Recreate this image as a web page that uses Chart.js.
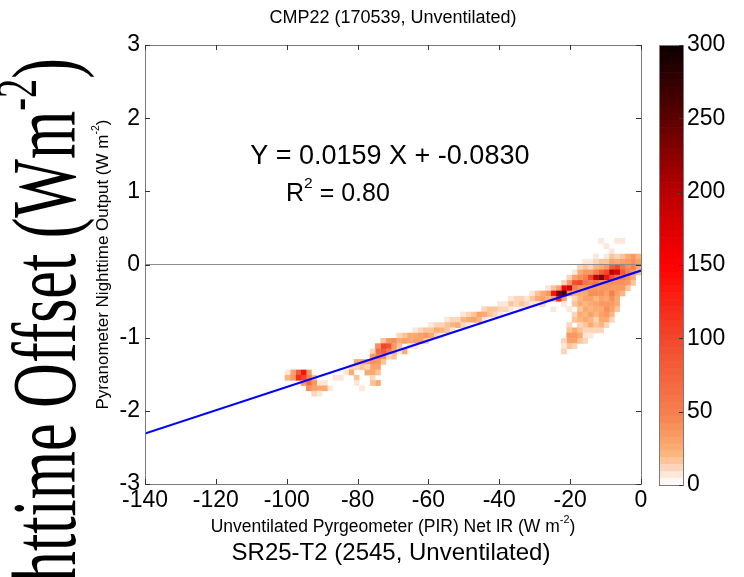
<!DOCTYPE html>
<html>
<head>
<meta charset="utf-8">
<script src="https://cdn.jsdelivr.net/npm/chart.js@4.4.0/dist/chart.umd.min.js"></script>
<style>
  html, body { margin: 0; padding: 0; background: #fff; }
  #wrap { position: relative; width: 744px; height: 577px; overflow: hidden; }
  #mainChart { position: absolute; left: 0; top: 0; }
  #barChart { position: absolute; left: 650px; top: 0; }
</style>
</head>
<body>
<div id="wrap">
  <canvas id="mainChart" width="744" height="577"></canvas>
  <canvas id="barChart" width="94" height="577"></canvas>
</div>
<script>
// axes
const xTicks = [-140, -120, -100, -80, -60, -40, -20, 0];
const yTicks = [-3, -2, -1, 0, 1, 2, 3];
const cbTicks = [0, 50, 100, 150, 200, 250, 300];

// 2D histogram bins (counts per cell)
const binWidthX = 1.5;
const binHeightY = 0.072;
const colX = [-0.75, -2.25, -3.75, -5.25, -6.75, -8.25, -9.75, -11.25, -12.75, -14.25,
  -15.75, -17.25, -18.75, -20.25, -21.75, -23.25, -24.75, -26.25, -27.75, -29.25,
  -30.75, -32.25, -33.75, -35.25, -36.75, -38.25, -39.75, -41.25, -42.75, -44.25,
  -45.75, -47.25, -48.75, -50.25, -51.75, -53.25, -54.75, -56.25, -57.75, -59.25,
  -60.75, -62.25, -63.75, -65.25, -66.75, -68.25, -69.75, -71.25, -72.75, -74.25,
  -75.75, -77.25, -78.75, -80.25, -81.75, -83.25, -84.75, -86.25, -87.75, -89.25,
  -90.75, -92.25, -93.75, -95.25, -96.75, -98.25, -99.75];
// y of the top cell in each column; counts go downward from there
const colTopY = [0.108, 0.108, 0.108, 0.324, 0.324, 0.18, 0.252, 0.324, 0.108, 0.036,
  0.036, -0.036, -0.108, -0.18, -0.252, -0.324, -0.324, -0.324, -0.396, -0.396,
  -0.396, -0.468, -0.468, -0.468, -0.468, -0.54, -0.54, -0.612, -0.612, -0.612,
  -0.684, -0.684, -0.684, -0.684, -0.756, -0.756, -0.756, -0.828, -0.828, -0.828,
  -0.9, -0.9, -0.9, -0.972, -0.972, -0.972, -1.044, -1.044, -1.044, -1.116,
  -1.188, -1.332, -1.332, -1.332, -1.404, -1.476, -1.548, -1.548, -1.692, -1.62,
  -1.62, -1.548, -1.476, -1.476, -1.476, -1.476, -1.476];
const colCounts = [
  [20, 30, 25, 18],
  [35, 40, 50, 35, 25, 15],
  [25, 35, 40, 50, 40, 35, 18],
  [8, 0, 0, 18, 30, 60, 80, 50, 40, 35, 20],
  [8, 0, 0, 12, 25, 100, 170, 60, 40, 35, 30, 25, 25, 18],
  [9, 15, 30, 80, 200, 90, 40, 35, 50, 40, 35, 30, 20, 12],
  [8, 0, 8, 18, 35, 100, 140, 40, 35, 30, 25, 35, 40, 35, 25, 12],
  [8, 0, 0, 0, 15, 25, 80, 230, 40, 35, 40, 30, 35, 25, 30, 25, 20, 12],
  [8, 12, 20, 50, 190, 60, 35, 40, 20, 30, 25, 20, 12, 18, 12],
  [8, 12, 35, 100, 50, 35, 40, 30, 25, 20, 30, 20, 25, 12, 8],
  [8, 18, 35, 50, 60, 35, 25, 30, 20, 25, 20, 25, 15, 12, 8, 12],
  [12, 25, 40, 100, 35, 25, 20, 25, 18, 25, 20, 12, 18, 25, 18],
  [8, 30, 90, 50, 20, 12, 18, 0, 12, 15, 0, 25, 35, 30, 12],
  [12, 35, 190, 40, 0, 0, 8, 0, 0, 12, 15, 35, 30, 18],
  [12, 150, 260, 30, 8, 0, 0, 0, 0, 0, 0, 12, 8, 12],
  [30, 230, 120],
  [18, 140, 25, 0, 8],
  [8, 35, 20],
  [25, 30, 12],
  [15, 25, 8],
  [8, 18, 8],
  [8, 12],
  [12, 18, 8],
  [12, 12],
  [8, 15, 8],
  [8, 12],
  [8, 12, 8],
  [15, 12],
  [15, 18],
  [12, 25, 8],
  [30, 20],
  [18, 30],
  [12, 25, 8],
  [8, 20, 12],
  [12, 25],
  [12, 20, 8],
  [8, 18, 15],
  [12, 20, 8],
  [12, 25, 12],
  [8, 18, 25],
  [18, 35, 15],
  [12, 30, 30],
  [8, 25, 30, 8],
  [25, 25, 8],
  [15, 30, 0, 25],
  [12, 25, 15, 8],
  [40, 35, 25, 15],
  [35, 90, 50, 12],
  [15, 100, 80, 40, 15],
  [40, 70, 50, 35, 30, 15, 0, 25],
  [12, 35, 40, 30, 25, 12, 18],
  [30, 12, 25],
  [30, 15, 0, 0, 0, 8],
  [25, 12, 0, 18, 8],
  [12, 25],
  [8],
  [8],
  [8],
  [6],
  [6, 25],
  [8, 25, 8],
  [15, 35, 30, 12],
  [35, 50, 70, 40],
  [140, 100, 35],
  [80, 120],
  [30, 35],
  [8, 20]
];

// linear fit
const fitSlope = 0.0159;
const fitIntercept = -0.0830;
const fitRSquared = 0.80;
const fitRangeX = [-140, 0];

// colour map
const cbMax = 300;
const cbLevels = 64;
const cmapStops = [0, 5, 10, 15, 22, 35, 50, 100, 150, 200, 250, 300];
const cmapColors = ['#ffffff', '#fdeee5', '#fcdcc7', '#fdc8a2', '#fcb277', '#f99961', '#f67e4f', '#f2472c', '#ff0000', '#b80000', '#5c0000', '#0a0000'];

const SANS = "'Liberation Sans', Arial, sans-serif";
const SERIF = "'Liberation Serif', 'Times New Roman', serif";

function hexRgb(h) {
  return [parseInt(h.slice(1, 3), 16), parseInt(h.slice(3, 5), 16), parseInt(h.slice(5, 7), 16)];
}

function cmap(v) {
  if (v <= cmapStops[0]) return cmapColors[0];
  for (let i = 1; i < cmapStops.length; i++) {
    if (v <= cmapStops[i]) {
      const t = (v - cmapStops[i - 1]) / (cmapStops[i] - cmapStops[i - 1]);
      const a = hexRgb(cmapColors[i - 1]), b = hexRgb(cmapColors[i]);
      const c = a.map((av, k) => Math.round(av + (b[k] - av) * t));
      return 'rgb(' + c.join(',') + ')';
    }
  }
  return cmapColors[cmapColors.length - 1];
}

// matlab style: value -> discrete colour level
function levelColor(n) {
  const step = cbMax / cbLevels;
  const lev = Math.min(cbLevels - 1, Math.floor(n / step));
  return cmap((lev + 0.5) * step);
}

const heatCells = [];
colX.forEach((x, i) => {
  colCounts[i].forEach((n, r) => {
    if (n > 0) heatCells.push({ x: x, y: colTopY[i] - r * binHeightY, n: n });
  });
});

// text with superscript pieces
function drawRich(ctx, parts, x, y, align, size, family) {
  const supSize = size * 0.62;
  let total = 0;
  parts.forEach(p => {
    ctx.font = (p.sup ? supSize : size) + 'px ' + family;
    p.w = ctx.measureText(p.t).width;
    total += p.w;
  });
  let cx = align === 'center' ? x - total / 2 : align === 'right' ? x - total : x;
  ctx.textAlign = 'left';
  parts.forEach(p => {
    ctx.font = (p.sup ? supSize : size) + 'px ' + family;
    ctx.fillText(p.t, cx, p.sup ? y - size * 0.42 : y);
    cx += p.w;
  });
}

const framePlugin = {
  id: 'frame',
  afterDraw(chart) {
    const ctx = chart.ctx;
    const a = chart.chartArea;
    const xs = chart.scales.x, ys = chart.scales.y;
    ctx.save();
    // box
    ctx.strokeStyle = '#7a7a7a';
    ctx.lineWidth = 1;
    ctx.strokeRect(Math.round(a.left) + 0.5, Math.round(a.top) + 0.5, Math.round(a.right - a.left), Math.round(a.bottom - a.top));
    // inward ticks
    ctx.strokeStyle = '#333';
    ctx.beginPath();
    xTicks.forEach(v => {
      const px = Math.round(xs.getPixelForValue(v)) + 0.5;
      ctx.moveTo(px, a.bottom); ctx.lineTo(px, a.bottom - 5);
      ctx.moveTo(px, a.top); ctx.lineTo(px, a.top + 5);
    });
    yTicks.forEach(v => {
      const py = Math.round(ys.getPixelForValue(v)) + 0.5;
      ctx.moveTo(a.left, py); ctx.lineTo(a.left + 5, py);
      ctx.moveTo(a.right, py); ctx.lineTo(a.right - 5, py);
    });
    ctx.stroke();

    ctx.fillStyle = '#000';
    ctx.textBaseline = 'middle';
    const cx = (a.left + a.right) / 2;
    // title
    ctx.font = '18px ' + SANS;
    ctx.textAlign = 'center';
    ctx.fillText('CMP22 (170539, Unventilated)', cx, 18);
    // x axis title
    drawRich(ctx, [{ t: 'Unventilated Pyrgeometer (PIR) Net IR (W m' }, { t: '-2', sup: true }, { t: ')' }], cx, 527, 'center', 17.5, SANS);
    // second line below
    ctx.font = '24px ' + SANS;
    ctx.textAlign = 'center';
    ctx.fillText('SR25-T2 (2545, Unventilated)', cx - 2, 553);
    // y axis title
    ctx.save();
    ctx.translate(103, (a.top + a.bottom) / 2);
    ctx.rotate(-Math.PI / 2);
    drawRich(ctx, [{ t: 'Pyranometer Nighttime Output (W m' }, { t: '-2', sup: true }, { t: ')' }], 0, 0, 'center', 17, SANS);
    ctx.restore();
    // fit annotation
    const eq = 'Y = ' + fitSlope.toFixed(4) + ' X + ' + fitIntercept.toFixed(4);
    ctx.font = '27px ' + SANS;
    ctx.textAlign = 'left';
    ctx.fillText(eq, xs.getPixelForValue(-110.3), ys.getPixelForValue(1.48));
    drawRich(ctx, [{ t: 'R' }, { t: '2', sup: true }, { t: ' = ' + fitRSquared.toFixed(2) }], xs.getPixelForValue(-100.2), ys.getPixelForValue(0.96), 'left', 25, SANS);
    // big label of the neighbouring panel, cut by the figure edge
    ctx.save();
    ctx.textBaseline = 'alphabetic';
    ctx.translate(75, 58);
    ctx.rotate(-Math.PI / 2);
    ctx.scale(0.675, 1);
    drawRich(ctx, [{ t: 'Nighttime Offset (Wm' }, { t: '-2', sup: true }, { t: ')' }], 0, 0, 'right', 92, SERIF);
    ctx.restore();
    ctx.restore();
  }
};

new Chart(document.getElementById('mainChart'), {
  type: 'scatter',
  data: {
    datasets: [
      {
        label: 'fit',
        type: 'line',
        data: fitRangeX.map(x => ({ x: x, y: fitSlope * x + fitIntercept })),
        borderColor: '#0000ff',
        borderWidth: 2,
        pointRadius: 0,
        order: 0
      },
      {
        label: 'zero',
        type: 'line',
        data: fitRangeX.map(x => ({ x: x, y: 0 })),
        borderColor: '#8c8c8c',
        borderWidth: 1,
        pointRadius: 0,
        order: 1
      },
      {
        label: 'counts',
        data: heatCells,
        pointStyle: 'rect',
        pointBorderWidth: 0,
        pointBackgroundColor: ctx => levelColor(ctx.raw.n),
        pointRadius: ctx => {
          const xs = ctx.chart.scales.x;
          return (Math.abs(xs.getPixelForValue(binWidthX) - xs.getPixelForValue(0)) + 0.4) / Math.SQRT2;
        },
        order: 2
      }
    ]
  },
  options: {
    responsive: false,
    animation: false,
    events: [],
    layout: { padding: { top: 45, right: 103, left: 0, bottom: 0 } },
    plugins: { legend: { display: false }, tooltip: { enabled: false } },
    scales: {
      x: {
        type: 'linear',
        min: -140,
        max: 0,
        afterFit: s => { s.height = 93; },
        afterBuildTicks: s => { s.ticks = xTicks.map(v => ({ value: v })); },
        grid: { display: false, drawTicks: false },
        border: { display: false },
        ticks: { autoSkip: false, maxRotation: 0, padding: 3, color: '#000', font: { family: SANS, size: 23 } }
      },
      y: {
        type: 'linear',
        min: -3,
        max: 3,
        afterFit: s => { s.width = 145; },
        afterBuildTicks: s => { s.ticks = yTicks.map(v => ({ value: v })); },
        grid: { display: false, drawTicks: false },
        border: { display: false },
        ticks: { padding: 5, color: '#000', font: { family: SANS, size: 23 } }
      }
    }
  },
  plugins: [framePlugin]
});

// colour bar
const cbFrame = {
  id: 'cbFrame',
  afterDraw(chart) {
    const ctx = chart.ctx;
    const a = chart.chartArea;
    const ys = chart.scales.y;
    ctx.save();
    ctx.strokeStyle = '#7a7a7a';
    ctx.lineWidth = 1;
    ctx.strokeRect(Math.round(a.left) + 0.5, Math.round(a.top) + 0.5, Math.round(a.right - a.left), Math.round(a.bottom - a.top));
    ctx.strokeStyle = '#333';
    ctx.beginPath();
    cbTicks.forEach(v => {
      const py = Math.round(ys.getPixelForValue(v)) + 0.5;
      ctx.moveTo(a.right, py); ctx.lineTo(a.right - 4, py);
    });
    ctx.stroke();
    ctx.restore();
  }
};

new Chart(document.getElementById('barChart'), {
  type: 'bar',
  data: {
    labels: [''],
    datasets: Array.from({ length: cbLevels }, (_, i) => ({
      data: [cbMax / cbLevels],
      backgroundColor: cmap((i + 0.5) * cbMax / cbLevels),
      borderWidth: 0,
      barPercentage: 1,
      categoryPercentage: 1
    }))
  },
  options: {
    responsive: false,
    animation: false,
    events: [],
    layout: { padding: { top: 45, bottom: 92, left: 9, right: 0 } },
    plugins: { legend: { display: false }, tooltip: { enabled: false } },
    scales: {
      x: { stacked: true, display: false },
      y: {
        stacked: true,
        position: 'right',
        min: 0,
        max: cbMax,
        afterFit: s => { s.width = 61; },
        afterBuildTicks: s => { s.ticks = cbTicks.map(v => ({ value: v })); },
        grid: { display: false, drawTicks: false },
        border: { display: false },
        ticks: { padding: 4, color: '#000', font: { family: SANS, size: 23 } }
      }
    }
  },
  plugins: [cbFrame]
});
</script>
</body>
</html>
